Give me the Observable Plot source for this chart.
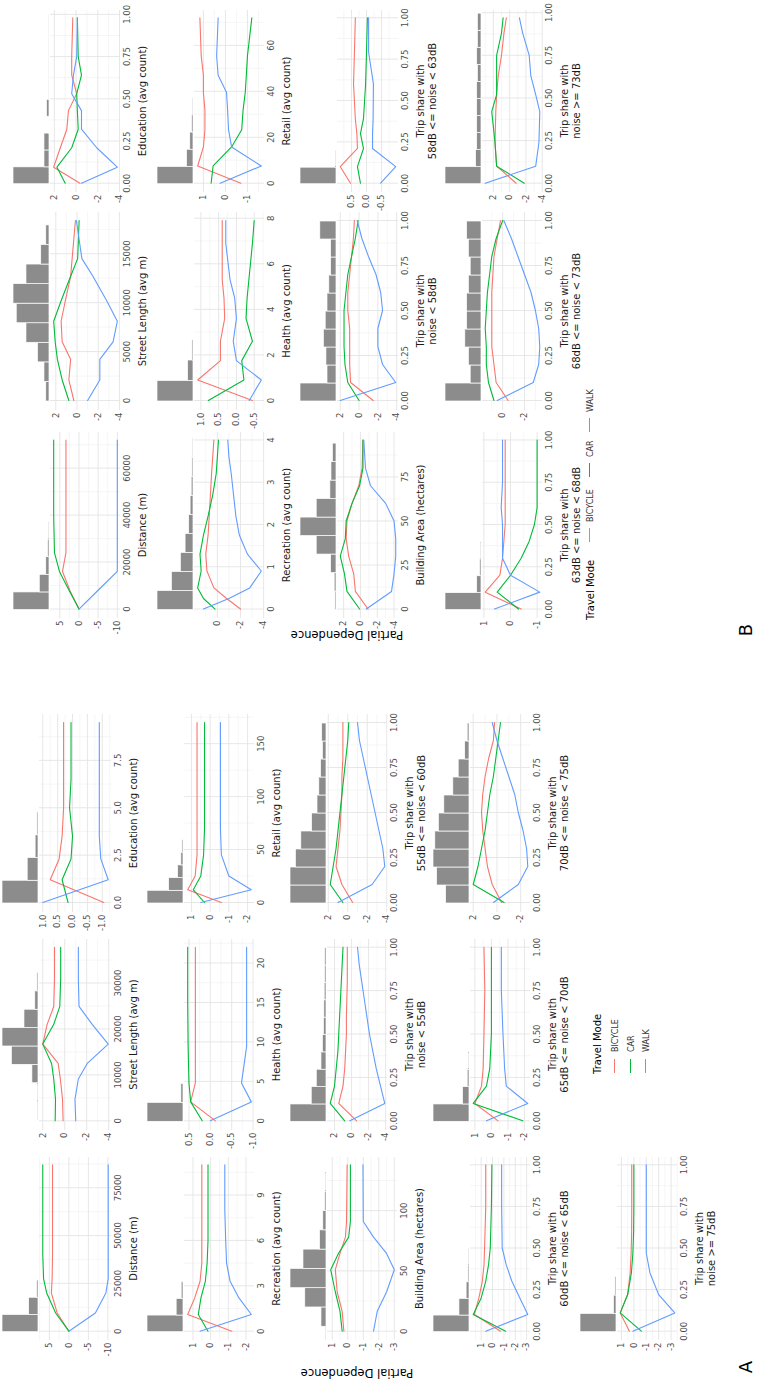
<!DOCTYPE html>
<html><head><meta charset="utf-8">
<script src="https://cdn.jsdelivr.net/npm/d3@7"></script>
<script src="https://cdn.jsdelivr.net/npm/@observablehq/plot@0.6"></script>
<style>
html,body{margin:0;padding:0;background:#fff;overflow:hidden;width:759px;height:1380px}
#fig{position:absolute;left:0;top:0;width:1380px;height:759px;transform-origin:0 0;transform:translate(0px,1380px) rotate(-90deg);font-family:"DejaVu Sans",sans-serif;background:#fff;color:#000}
.cell{position:absolute}
.xt{position:absolute;text-align:center;font-size:10px;line-height:12px;white-space:pre;color:#1a1a1a}
.lab{position:absolute;white-space:nowrap}
</style></head><body><div id="fig"></div>
<script>
// ---------- categories ----------
const MODES = ["BICYCLE", "CAR", "WALK"];
const MODE_COLORS = ["#F8766D", "#00BA38", "#619CFF"];

// ================= PANEL A =================
const aDist_x = [0, 9500, 20000, 27500, 40000, 60000, 87000];
const aDist_bicycle = [0, 3.0, 4.5, 4.3, 4.2, 4.2, 4.2];
const aDist_car = [0, 3.4, 5.7, 6.5, 6.7, 6.7, 6.7];
const aDist_walk = [0, -6.8, -9.5, -10.1, -10.1, -10.1, -10.1];
const aDist_edges = [0, 9000, 18000, 27000];
const aDist_counts = [100, 26, 4];
const aDist_xTicks = [0, 25000, 50000, 75000];
const aDist_yTicks = [5, 0, -5, -10];

const aStreet_x = [0, 4700, 9100, 12500, 16700, 21000, 24900, 31000, 37800];
const aStreet_bicycle = [0.15, 0.2, 0.4, 0.6, 2.0, 1.6, 1.0, 0.93, 0.93];
const aStreet_car = [0.87, 0.84, 1.0, 1.2, 2.0, 1.0, 0.45, 0.37, 0.37];
const aStreet_walk = [-1.0, -0.93, -1.24, -2.05, -3.96, -2.5, -1.3, -1.24, -1.24];
const aStreet_edges = [400, 4400, 8400, 12400, 16400, 20400, 24400, 28400, 32400];
const aStreet_counts = [2, 2, 17, 74, 100, 39, 9, 3];
const aStreet_xTicks = [0, 10000, 20000, 30000, 40000];
const aStreet_yTicks = [2, 0, -2, -4];

const aEdu_x = [0, 1.2, 2.3, 3.5, 5, 6.5, 8, 9.5];
const aEdu_bicycle = [-1.05, 0.75, 0.45, 0.35, 0.3, 0.3, 0.3, 0.3];
const aEdu_car = [0.15, 0.35, 0.05, 0.0, 0.1, 0.05, 0.05, 0.05];
const aEdu_walk = [1.0, -1.2, -0.95, -0.9, -0.9, -0.9, -0.9, -0.9];
const aEdu_edges = [0, 1.2, 2.4, 3.6, 4.8];
const aEdu_counts = [100, 30, 8, 3];
const aEdu_xTicks = [0, 2.5, 5, 7.5];
const aEdu_yTicks = [1, 0.5, 0, -0.5, -1];

const aRec_x = [0, 1.1, 2.2, 3.3, 4.5, 6, 8, 11];
const aRec_bicycle = [-1.2, 1.3, 0.9, 0.6, 0.5, 0.5, 0.5, 0.5];
const aRec_car = [0.15, 0.7, 0.55, 0.3, 0.2, 0.15, 0.15, 0.15];
const aRec_walk = [0.6, -2.3, -1.6, -1.1, -0.9, -0.85, -0.8, -0.8];
const aRec_edges = [0, 1.1, 2.2, 3.3];
const aRec_counts = [100, 19, 5];
const aRec_xTicks = [0, 3, 6, 9];
const aRec_yTicks = [1, 0, -1, -2];

const aHealth_x = [0, 2.4, 4.8, 9.4, 15, 22];
const aHealth_bicycle = [-0.12, 0.46, 0.35, 0.35, 0.35, 0.35];
const aHealth_car = [0.19, 0.46, 0.5, 0.52, 0.53, 0.53];
const aHealth_walk = [0, -0.96, -0.73, -0.85, -0.85, -0.85];
const aHealth_edges = [0, 2.4, 4.8];
const aHealth_counts = [100, 6];
const aHealth_xTicks = [0, 5, 10, 15, 20];
const aHealth_yTicks = [0.5, 0, -0.5, -1];

const aRetail_x = [0, 12, 25, 45, 70, 110, 170];
const aRetail_bicycle = [-0.6, 1.2, 0.8, 0.7, 0.7, 0.7, 0.7];
const aRetail_car = [0.3, 0.9, 0.5, 0.35, 0.3, 0.3, 0.3];
const aRetail_walk = [0.5, -2.2, -1.0, -0.6, -0.55, -0.55, -0.55];
const aRetail_edges = [0, 12, 24, 36, 48, 60];
const aRetail_counts = [100, 40, 15, 6, 3];
const aRetail_xTicks = [0, 50, 100, 150];
const aRetail_yTicks = [1, 0, -1, -2];

const aBuild_x = [0, 16.5, 32.5, 51, 64.5, 78, 91, 138];
const aBuild_bicycle = [0.25, 0.36, 0.68, 0.8, 0.5, 0.15, 0.08, 0.04];
const aBuild_car = [0.36, 0.5, 0.8, 1.1, 0.6, -0.06, -0.17, -0.17];
const aBuild_walk = [-1.66, -1.9, -2.5, -3.0, -2.5, -1.66, -1.0, -0.98];
const aBuild_edges = [-11.5, 4.5, 20.5, 36.5, 52.5, 68.5, 84.5, 100.5, 116.5, 132.5];
const aBuild_counts = [2, 14, 59, 100, 64, 18, 9, 4, 2];
const aBuild_xTicks = [0, 50, 100];
const aBuild_yTicks = [1, 0, -1, -2, -3];

const share_x = [0, 0.1, 0.2, 0.3, 0.4, 0.5, 0.6, 0.7, 0.8, 0.9, 1.0];
const share_edges = [0, 0.1, 0.2, 0.3, 0.4, 0.5, 0.6, 0.7, 0.8, 0.9, 1.0];
const share_xTicks = [0, 0.25, 0.5, 0.75, 1];

const aN55_bicycle = [-0.6, 1.5, 1.0, 0.8, 0.7, 0.6, 0.6, 0.55, 0.5, 0.5, 0.5];
const aN55_car = [0.8, 2.5, 2.0, 1.8, 1.6, 1.5, 1.4, 1.3, 1.2, 1.1, 1.0];
const aN55_walk = [0.2, -3.9, -3.4, -2.9, -2.5, -2.1, -1.8, -1.5, -1.2, -0.9, -0.7];
const aN55_counts = [100, 41, 27, 14, 10, 7, 6, 5, 4, 4];
const aN55_yTicks = [2, 0, -2, -4];

const aN5560_bicycle = [-0.5, 0.6, 1.2, 1.0, 0.8, 0.7, 0.6, 0.6, 0.5, 0.5, 0.5];
const aN5560_car = [0.5, 1.8, 1.5, 1.2, 1.0, 0.8, 0.6, 0.4, 0.2, 0.0, -0.1];
const aN5560_walk = [1.0, -2.5, -3.8, -3.6, -3.2, -2.8, -2.4, -2.0, -1.6, -1.2, -1.0];
const aN5560_counts = [100, 100, 85, 70, 40, 25, 20, 15, 10, 12];
const aN5560_yTicks = [2, 0, -2, -4];

const aN6065_x = [0, 0.1, 0.2, 0.3, 0.4, 0.5, 0.75, 1.0];
const aN6065_bicycle = [-0.7, 1.6, 1.2, 0.9, 0.75, 0.7, 0.6, 0.6];
const aN6065_car = [-1.15, 1.7, 1.0, 0.6, 0.35, 0.2, 0.1, 0.06];
const aN6065_walk = [0.6, -3.1, -2.4, -1.7, -1.2, -0.85, -0.8, -0.8];
const aN6065_edges = [0, 0.1, 0.2, 0.3, 0.4, 0.5];
const aN6065_counts = [100, 28, 8, 3, 2];
const aN6065_yTicks = [2, 1, 0, -1, -2, -3];

const aN6570_x = [0, 0.1, 0.2, 0.3, 0.5, 0.75, 1.0];
const aN6570_bicycle = [-0.4, 1.0, 0.6, 0.5, 0.45, 0.4, 0.45];
const aN6570_car = [-1.9, 1.1, 0.3, 0.1, 0.0, 0.0, 0.0];
const aN6570_walk = [0.3, -2.2, -0.9, -0.8, -0.7, -0.6, -0.6];
const aN6570_edges = [0, 0.1, 0.2, 0.3, 0.4];
const aN6570_counts = [100, 18, 5, 2];
const aN6570_yTicks = [1, 0, -1, -2];

const aN7075_bicycle = [-0.4, 0.4, 0.8, 1.0, 1.2, 1.3, 1.2, 1.0, 0.7, 0.3, 0.2];
const aN7075_car = [-0.6, 2.0, 1.6, 1.3, 1.0, 0.8, 0.6, 0.3, 0.1, -0.1, -0.3];
const aN7075_walk = [0.3, -1.8, -2.6, -2.5, -2.2, -1.8, -1.5, -1.0, -0.5, 0.0, 0.4];
const aN7075_counts = [65, 90, 100, 95, 85, 70, 45, 30, 12, 5];
const aN7075_yTicks = [2, 0, -2];

const aN75_x = [0, 0.11, 0.22, 0.35, 0.47, 0.6, 0.75, 1.0];
const aN75_bicycle = [0.36, 1.1, 0.5, 0.3, 0.22, 0.18, 0.17, 0.17];
const aN75_car = [-0.6, 1.1, 0.5, 0.2, 0.08, 0.02, 0.0, 0.0];
const aN75_walk = [0.08, -3.3, -2.0, -1.3, -1.0, -1.0, -1.0, -1.0];
const aN75_edges = [0, 0.11, 0.22, 0.33];
const aN75_counts = [100, 7, 3];
const aN75_yTicks = [1, 0, -1, -2, -3];

// ================= PANEL B =================
const bDist_x = [0, 8000, 16000, 24000, 40000, 56000, 72000];
const bDist_bicycle = [0, 2.4, 4.3, 3.4, 3.4, 3.4, 3.4];
const bDist_car = [0, 2.6, 5.1, 6.4, 6.6, 6.6, 6.6];
const bDist_walk = [0, -5.0, -10.0, -10.0, -10.0, -10.0, -10.0];
const bDist_edges = [0, 7500, 15000, 22500, 30000, 37500, 45000];
const bDist_counts = [100, 27, 9, 4, 2, 1];
const bDist_xTicks = [0, 20000, 40000, 60000];
const bDist_yTicks = [5, 0, -5, -10];

const bStreet_x = [0, 2100, 4200, 6000, 8100, 10200, 12700, 14500, 18400];
const bStreet_bicycle = [0.3, 0.77, 0.6, 1.4, 1.5, 1.1, 0.6, 0.46, 0.15];
const bStreet_car = [0.77, 1.4, 1.85, 2.06, 2.2, 1.5, 0.6, -0.06, -0.2];
const bStreet_walk = [-1.0, -2.15, -2.15, -3.4, -3.8, -2.8, -1.5, -0.46, 0.06];
const bStreet_edges = [0, 2000, 4000, 6000, 8000, 10000, 12000, 14000, 16000, 18000];
const bStreet_counts = [9, 14, 32, 64, 91, 100, 64, 23, 9];
const bStreet_xTicks = [0, 5000, 10000, 15000];
const bStreet_yTicks = [2, 0, -2, -4];

const bEdu_x = [0, 0.095, 0.21, 0.32, 0.43, 0.53, 0.64, 0.75, 0.98];
const bEdu_bicycle = [-0.36, 2.06, 1.45, 0.85, 0.7, -0.06, 0.4, 0.4, 0.3];
const bEdu_car = [1.0, 1.76, 0.4, -0.2, -0.12, -0.06, -0.5, -0.2, -0.12];
const bEdu_walk = [-0.5, -3.8, -1.9, -0.5, -0.5, 0.4, 0.24, -0.06, -0.12];
const bEdu_counts = [100, 14, 14, 1, 7, 0.6, 0.6, 0.6, 0.6, 0.6];
const bEdu_yTicks = [2, 0, -2, -4];

const bRec_x = [0, 0.25, 0.5, 0.9, 1.3, 1.75, 2.2, 2.7, 3.2, 3.6, 4.0];
const bRec_bicycle = [-2.0, -0.8, 0.3, 0.9, 1.0, 0.8, 0.7, 0.6, 0.5, 0.4, 0.3];
const bRec_car = [0.2, 1.2, 1.7, 1.4, 1.5, 1.2, 0.8, 0.4, 0.1, 0.0, -0.1];
const bRec_walk = [1.2, -1.0, -2.8, -3.8, -2.6, -1.9, -1.6, -1.4, -1.2, -1.0, -0.9];
const bRec_edges = [0, 0.45, 0.9, 1.35, 1.8, 2.25, 2.7, 3.15, 3.6, 4.05];
const bRec_counts = [100, 60, 35, 22, 12, 8, 5, 3, 2];
const bRec_xTicks = [0, 1, 2, 3, 4];
const bRec_yTicks = [2, 0, -2, -4];

const bHealth_x = [0, 0.9, 1.75, 2.6, 3.6, 4.5, 5.3, 6.9, 7.9];
const bHealth_bicycle = [-0.45, 1.09, 0.45, 0.45, 0.33, 0.35, 0.4, 0.4, 0.4];
const bHealth_car = [0.79, -0.21, -0.15, -0.45, -0.27, -0.3, -0.35, -0.45, -0.5];
const bHealth_walk = [-0.36, -0.7, 0.0, 0.09, 0.0, 0.05, 0.18, 0.3, 0.3];
const bHealth_edges = [0, 0.9, 1.8, 2.7];
const bHealth_counts = [100, 15, 3];
const bHealth_xTicks = [0, 2, 4, 6, 8];
const bHealth_yTicks = [1, 0.5, 0, -0.5];

const bRetail_x = [0, 7.5, 15.8, 23.3, 31.7, 39.5, 47, 55.4, 72];
const bRetail_bicycle = [-0.7, 1.26, 1.0, 0.93, 0.93, 1.0, 1.0, 1.1, 1.16];
const bRetail_car = [0.65, 0.56, -0.28, -0.74, -0.8, -0.9, -0.95, -1.0, -1.2];
const bRetail_walk = [0.24, -1.63, -0.28, -0.14, -0.1, -0.05, 0.33, 0.4, 0.33];
const bRetail_edges = [0, 7.5, 15, 22.5, 30, 37.5, 45];
const bRetail_counts = [100, 18, 9, 4, 2, 1];
const bRetail_xTicks = [0, 20, 40, 60];
const bRetail_yTicks = [1, 0, -1];

const bBuild_x = [0, 10, 20, 30, 40, 50, 60, 70, 80, 96];
const bBuild_bicycle = [-0.9, 0.6, 0.8, 1.4, 1.7, 1.6, 1.0, 0.2, -0.2, -0.3];
const bBuild_car = [0.1, 1.6, 1.9, 2.4, 1.8, 1.7, 1.0, 0.1, -0.3, -0.3];
const bBuild_walk = [-0.7, -3.7, -4.0, -4.2, -4.2, -4.0, -3.0, -1.2, -0.6, -0.4];
const bBuild_edges = [0, 10.5, 21, 31.5, 42, 52.5, 63, 73.5, 84, 94.5];
const bBuild_counts = [3, 5, 15, 55, 100, 55, 17, 14, 10];
const bBuild_xTicks = [0, 25, 50, 75];
const bBuild_yTicks = [2, 0, -2, -4];

const bN58_bicycle = [-1.5, 0.9, 1.0, 1.0, 1.0, 1.2, 1.2, 1.0, 0.8, 0.6, 0.5];
const bN58_car = [0.0, 1.2, 1.5, 1.6, 1.6, 1.6, 1.4, 1.2, 0.8, 0.4, 0.1];
const bN58_walk = [2.0, -3.9, -2.5, -2.0, -2.0, -2.5, -2.3, -1.8, -1.0, -0.3, 0.2];
const bN58_counts = [100, 25, 28, 35, 30, 25, 20, 15, 15, 45];
const bN58_yTicks = [2, 0, -2, -4];

const bN5863_x = [0, 0.1, 0.21, 0.3, 0.39, 0.6, 0.79, 1.0];
const bN5863_bicycle = [0.53, 0.87, 0.3, 0.32, 0.37, 0.43, 0.4, 0.37];
const bN5863_car = [0.2, 0.3, 0.1, 0.2, 0.1, 0.03, 0.0, -0.03];
const bN5863_walk = [-0.47, -0.97, -0.2, -0.2, -0.22, -0.23, -0.07, -0.07];
const bN5863_edges = [0, 0.1, 0.2];
const bN5863_counts = [100, 2];
const bN5863_yTicks = [0.5, 0, -0.5];

const bN6368_x = [0, 0.1, 0.2, 0.3, 0.4, 0.5, 0.6, 0.75, 1.0];
const bN6368_bicycle = [-0.4, 0.95, 0.4, 0.3, 0.25, 0.2, 0.2, 0.2, 0.2];
const bN6368_car = [-0.3, 0.5, 0.0, -0.4, -0.7, -0.9, -1.0, -1.0, -1.0];
const bN6368_walk = [0.6, -1.1, 0.0, 0.3, 0.3, 0.3, 0.35, 0.3, 0.3];
const bN6368_counts = [100, 12, 4, 2, 1, 1, 1, 1, 1, 1];
const bN6368_yTicks = [1, 0, -1];

const bN6873_bicycle = [-0.5, 0.6, 0.8, 1.0, 1.0, 1.0, 1.0, 0.9, 0.8, 0.5, 0.2];
const bN6873_car = [0.8, 1.3, 1.5, 1.5, 1.6, 1.5, 1.4, 1.2, 1.0, 0.6, 0.0];
const bN6873_walk = [0.5, -2.8, -3.3, -3.4, -3.3, -3.0, -2.6, -2.0, -1.4, -0.8, -0.1];
const bN6873_counts = [100, 30, 35, 45, 40, 40, 35, 30, 35, 40];
const bN6873_yTicks = [2, 0, -2, -4];

const bN73_x = [0, 0.1, 0.24, 0.42, 0.52, 0.63, 0.75, 0.88, 0.97];
const bN73_bicycle = [-0.8, 1.6, 1.8, 1.7, 1.6, 1.4, 1.0, 0.7, 0.4];
const bN73_car = [-1.8, 1.6, 1.8, 2.2, 1.6, 1.6, 1.6, 1.0, 0.8];
const bN73_walk = [3.0, -3.2, -3.6, -3.7, -3.2, -2.6, -2.4, -1.6, -1.2];
const bN73_counts = [100, 15, 12, 12, 12, 12, 10, 12, 10, 10];
const bN73_yTicks = [2, 0, -2, -4];

// ---------- panel table (built from the arrays above) ----------
const TS = "Trip share with\n";
const panels = [
  {fig:"A",row:0,col:0,title:"Distance (m)",x:aDist_x,v:[aDist_bicycle,aDist_car,aDist_walk],edges:aDist_edges,counts:aDist_counts,xt:aDist_xTicks,yt:aDist_yTicks,xf:"d",yf:"d"},
  {fig:"A",row:0,col:1,title:"Street Length (avg m)",x:aStreet_x,v:[aStreet_bicycle,aStreet_car,aStreet_walk],edges:aStreet_edges,counts:aStreet_counts,xt:aStreet_xTicks,yt:aStreet_yTicks,xf:"d",yf:"d"},
  {fig:"A",row:0,col:2,title:"Education (avg count)",x:aEdu_x,v:[aEdu_bicycle,aEdu_car,aEdu_walk],edges:aEdu_edges,counts:aEdu_counts,xt:aEdu_xTicks,yt:aEdu_yTicks,xf:".1f",yf:".1f"},
  {fig:"A",row:1,col:0,title:"Recreation (avg count)",x:aRec_x,v:[aRec_bicycle,aRec_car,aRec_walk],edges:aRec_edges,counts:aRec_counts,xt:aRec_xTicks,yt:aRec_yTicks,xf:"d",yf:"d"},
  {fig:"A",row:1,col:1,title:"Health (avg count)",x:aHealth_x,v:[aHealth_bicycle,aHealth_car,aHealth_walk],edges:aHealth_edges,counts:aHealth_counts,xt:aHealth_xTicks,yt:aHealth_yTicks,xf:"d",yf:".1f"},
  {fig:"A",row:1,col:2,title:"Retail (avg count)",x:aRetail_x,v:[aRetail_bicycle,aRetail_car,aRetail_walk],edges:aRetail_edges,counts:aRetail_counts,xt:aRetail_xTicks,yt:aRetail_yTicks,xf:"d",yf:"d"},
  {fig:"A",row:2,col:0,title:"Building Area (hectares)",x:aBuild_x,v:[aBuild_bicycle,aBuild_car,aBuild_walk],edges:aBuild_edges,counts:aBuild_counts,xt:aBuild_xTicks,yt:aBuild_yTicks,xf:"d",yf:"d"},
  {fig:"A",row:2,col:1,title:TS+"noise < 55dB",x:share_x,v:[aN55_bicycle,aN55_car,aN55_walk],edges:share_edges,counts:aN55_counts,xt:share_xTicks,yt:aN55_yTicks,xf:".2f",yf:"d"},
  {fig:"A",row:2,col:2,title:TS+"55dB <= noise < 60dB",x:share_x,v:[aN5560_bicycle,aN5560_car,aN5560_walk],edges:share_edges,counts:aN5560_counts,xt:share_xTicks,yt:aN5560_yTicks,xf:".2f",yf:"d"},
  {fig:"A",row:3,col:0,title:TS+"60dB <= noise < 65dB",x:aN6065_x,v:[aN6065_bicycle,aN6065_car,aN6065_walk],edges:aN6065_edges,counts:aN6065_counts,xt:share_xTicks,yt:aN6065_yTicks,xf:".2f",yf:"d"},
  {fig:"A",row:3,col:1,title:TS+"65dB <= noise < 70dB",x:aN6570_x,v:[aN6570_bicycle,aN6570_car,aN6570_walk],edges:aN6570_edges,counts:aN6570_counts,xt:share_xTicks,yt:aN6570_yTicks,xf:".2f",yf:"d"},
  {fig:"A",row:3,col:2,title:TS+"70dB <= noise < 75dB",x:share_x,v:[aN7075_bicycle,aN7075_car,aN7075_walk],edges:share_edges,counts:aN7075_counts,xt:share_xTicks,yt:aN7075_yTicks,xf:".2f",yf:"d"},
  {fig:"A",row:4,col:0,title:TS+"noise >= 75dB",x:aN75_x,v:[aN75_bicycle,aN75_car,aN75_walk],edges:aN75_edges,counts:aN75_counts,xt:share_xTicks,yt:aN75_yTicks,xf:".2f",yf:"d"},
  {fig:"B",row:0,col:0,title:"Distance (m)",x:bDist_x,v:[bDist_bicycle,bDist_car,bDist_walk],edges:bDist_edges,counts:bDist_counts,xt:bDist_xTicks,yt:bDist_yTicks,xf:"d",yf:"d"},
  {fig:"B",row:0,col:1,title:"Street Length (avg m)",x:bStreet_x,v:[bStreet_bicycle,bStreet_car,bStreet_walk],edges:bStreet_edges,counts:bStreet_counts,xt:bStreet_xTicks,yt:bStreet_yTicks,xf:"d",yf:"d"},
  {fig:"B",row:0,col:2,title:"Education (avg count)",x:bEdu_x,v:[bEdu_bicycle,bEdu_car,bEdu_walk],edges:share_edges,counts:bEdu_counts,xt:share_xTicks,yt:bEdu_yTicks,xf:".2f",yf:"d"},
  {fig:"B",row:1,col:0,title:"Recreation (avg count)",x:bRec_x,v:[bRec_bicycle,bRec_car,bRec_walk],edges:bRec_edges,counts:bRec_counts,xt:bRec_xTicks,yt:bRec_yTicks,xf:"d",yf:"d"},
  {fig:"B",row:1,col:1,title:"Health (avg count)",x:bHealth_x,v:[bHealth_bicycle,bHealth_car,bHealth_walk],edges:bHealth_edges,counts:bHealth_counts,xt:bHealth_xTicks,yt:bHealth_yTicks,xf:"d",yf:".1f"},
  {fig:"B",row:1,col:2,title:"Retail (avg count)",x:bRetail_x,v:[bRetail_bicycle,bRetail_car,bRetail_walk],edges:bRetail_edges,counts:bRetail_counts,xt:bRetail_xTicks,yt:bRetail_yTicks,xf:"d",yf:"d"},
  {fig:"B",row:2,col:0,title:"Building Area (hectares)",x:bBuild_x,v:[bBuild_bicycle,bBuild_car,bBuild_walk],edges:bBuild_edges,counts:bBuild_counts,xt:bBuild_xTicks,yt:bBuild_yTicks,xf:"d",yf:"d"},
  {fig:"B",row:2,col:1,title:TS+"noise < 58dB",x:share_x,v:[bN58_bicycle,bN58_car,bN58_walk],edges:share_edges,counts:bN58_counts,xt:share_xTicks,yt:bN58_yTicks,xf:".2f",yf:"d"},
  {fig:"B",row:2,col:2,title:TS+"58dB <= noise < 63dB",x:bN5863_x,v:[bN5863_bicycle,bN5863_car,bN5863_walk],edges:bN5863_edges,counts:bN5863_counts,xt:share_xTicks,yt:bN5863_yTicks,xf:".2f",yf:".1f"},
  {fig:"B",row:3,col:0,title:TS+"63dB <= noise < 68dB",x:bN6368_x,v:[bN6368_bicycle,bN6368_car,bN6368_walk],edges:share_edges,counts:bN6368_counts,xt:share_xTicks,yt:bN6368_yTicks,xf:".2f",yf:"d"},
  {fig:"B",row:3,col:1,title:TS+"68dB <= noise < 73dB",x:share_x,v:[bN6873_bicycle,bN6873_car,bN6873_walk],edges:share_edges,counts:bN6873_counts,xt:share_xTicks,yt:bN6873_yTicks,xf:".2f",yf:"d"},
  {fig:"B",row:3,col:2,title:TS+"noise >= 73dB",x:bN73_x,v:[bN73_bicycle,bN73_car,bN73_walk],edges:share_edges,counts:bN73_counts,xt:share_xTicks,yt:bN73_yTicks,xf:".2f",yf:"d"}
];

// ---------- layout (original landscape orientation, then rotated) ----------
const COLS = {A: [[40, 223], [250, 441], [468, 666]], B: [[762, 948], [970, 1168], [1188, 1370]]};
const ROWS = {A: [2, 147, 290, 433, 580], B: [13, 157, 300, 445]};
// panel heights per row (null: decided by the title's line count)
const PANEL_H = {A: [72, 70, null, 60, 60], B: [70, 70, 61, 60]};
const HIST_H = 36, ML = 34, MR = 4, MB = 15;

const fig = document.getElementById("fig");
const fmt = f => { const g = d3.format(f); return v => g(v).replace("\u2212", "-"); };
function expand(ext) { const p = (ext[1] - ext[0]) * 0.05; return [ext[0] - p, ext[1] + p]; }
function minors(ticks, dom) {
  const t = [...ticks].sort((a, b) => a - b); const step = t[1] - t[0]; const out = [];
  for (let k = Math.floor((dom[0] - t[0]) / step) - 1; t[0] + (k + 0.5) * step <= dom[1]; k++) {
    const m = t[0] + (k + 0.5) * step; if (m >= dom[0]) out.push(m);
  }
  return out;
}
function place(el, left, top, w) {
  const d = document.createElement("div"); d.className = "cell";
  d.style.left = left + "px"; d.style.top = top + "px"; if (w) d.style.width = w + "px";
  d.appendChild(el); fig.appendChild(d); return d;
}

for (const p of panels) {
  const [pl, pr] = COLS[p.fig][p.col];
  const top = ROWS[p.fig][p.row];
  const two = p.title.includes("\n");
  const ph = PANEL_H[p.fig][p.row] ?? (two ? 60 : 70);
  const width = pr - pl + ML + MR;
  const xDom = expand(d3.extent(p.x));
  const yDom = expand(d3.extent(p.v.flat()));
  const inX = v => v >= xDom[0] && v <= xDom[1], inY = v => v >= yDom[0] && v <= yDom[1];
  const rows = MODES.flatMap((m, k) => p.x.map((x, i) => ({x, y: p.v[k][i], mode: m})));
  const bins = p.counts.map((c, i) => ({x1: p.edges[i], x2: p.edges[i + 1], c}));

  const hist = Plot.plot({
    width, height: HIST_H, marginLeft: ML, marginRight: MR, marginTop: 0, marginBottom: 0,
    style: {background: "transparent"},
    x: {domain: xDom, axis: null}, y: {domain: [0, d3.max(p.counts)], axis: null},
    marks: [Plot.rectY(bins, {x1: "x1", x2: "x2", y: "c", fill: "#8c8c8c", stroke: "white", strokeWidth: 0.7, clip: true})]
  });
  place(hist, pl - ML, top, width);

  const xMaj = p.xt.filter(inX), yMaj = p.yt.filter(inY);
  const chart = Plot.plot({
    width, height: ph + MB, marginLeft: ML, marginRight: MR, marginTop: 0, marginBottom: MB,
    style: {background: "transparent", fontFamily: "DejaVu Sans, sans-serif", fontSize: "8.5px", color: "#4d4d4d", overflow: "visible"},
    x: {domain: xDom, ticks: xMaj, tickFormat: fmt(p.xf), tickSize: 0, tickPadding: 3, label: null},
    y: {domain: yDom, ticks: yMaj, tickFormat: fmt(p.yf), tickSize: 0, tickPadding: 3, label: null},
    color: {domain: MODES, range: MODE_COLORS},
    marks: [
      Plot.ruleX(minors(p.xt, xDom), {stroke: "#f0f0f0", strokeWidth: 0.6}),
      Plot.ruleY(minors(p.yt, yDom), {stroke: "#f0f0f0", strokeWidth: 0.6}),
      Plot.ruleX(xMaj, {stroke: "#e4e4e4", strokeWidth: 0.9}),
      Plot.ruleY(yMaj, {stroke: "#e4e4e4", strokeWidth: 0.9}),
      Plot.line(rows, {x: "x", y: "y", z: "mode", stroke: "mode", strokeWidth: 1.1})
    ]
  });
  place(chart, pl - ML, top + HIST_H + 1, width);

  const t = document.createElement("div"); t.className = "xt"; t.textContent = p.title;
  t.style.left = pl + "px"; t.style.width = (pr - pl) + "px"; t.style.top = (top + HIST_H + 1 + ph + MB + 2) + "px";
  fig.appendChild(t);
}

// ---------- shared texts ----------
function label(text, x, y, size, rot, anchor) {
  const d = document.createElement("div"); d.className = "lab"; d.textContent = text;
  d.style.left = x + "px"; d.style.top = y + "px"; d.style.fontSize = size + "px";
  d.style.transform = `translate(${anchor === "start" ? "0" : "-50%"},-50%)` + (rot ? ` rotate(${rot}deg)` : "");
  fig.appendChild(d); return d;
}
label("Partial Dependence", 7, 357, 11.5, -90);
label("Partial Dependence", 745, 347, 11.5, -90);
label("A", 13, 745, 18);
label("B", 750, 745, 18);

function key(x, y, color) {
  const d = document.createElement("div"); d.className = "lab";
  d.style.left = x + "px"; d.style.top = (y - 0.6) + "px"; d.style.width = "14px"; d.style.height = "0";
  d.style.borderTop = "1.2px solid " + color; fig.appendChild(d);
}
// legend A (vertical)
label("Travel Mode", 306, 597, 10, 0, "start");
MODES.forEach((m, i) => { const y = 615 + i * 15.5; key(307, y, MODE_COLORS[i]); label(m, 328, y, 8, 0, "start").style.color = "#333"; });
// legend B (horizontal)
label("Travel Mode", 760, 590, 10, 0, "start");
const legX = [[838, 858], [903, 923], [948, 968]];
MODES.forEach((m, i) => { key(legX[i][0], 590, MODE_COLORS[i]); label(m, legX[i][1], 590, 8, 0, "start").style.color = "#333"; });
</script></body></html>
